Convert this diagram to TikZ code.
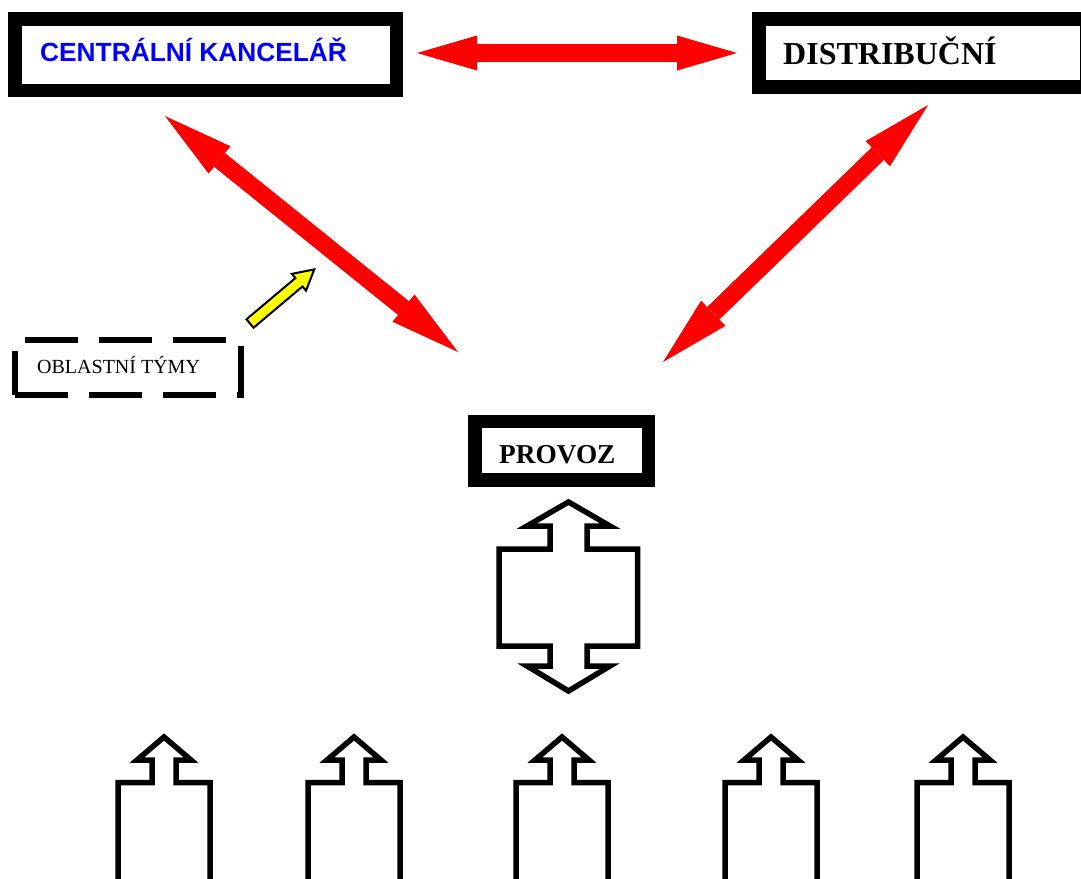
\documentclass[tikz,border=0pt]{standalone}
\usepackage{fontspec}
\setmainfont{Liberation Serif}
\newfontfamily\arialfont{Liberation Sans}
\usetikzlibrary{arrows.meta}
\definecolor{cblue}{RGB}{0,0,255}
\definecolor{cred}{RGB}{255,0,0}
\definecolor{cyel}{RGB}{255,255,0}
\begin{document}
\begin{tikzpicture}[x=1pt,y=-1pt,
  box/.style={draw=black, line width=13.5pt, fill=white, inner sep=0pt, rectangle},
  lbl/.style={anchor=base west, inner sep=0pt},
  relarrow/.style={draw=cred, line width=17.5pt,
     {Triangle[length=#1,width=35pt,line width=0pt]}-{Triangle[length=#1,width=35pt,line width=0pt]}},
  blockarrow/.style={draw=black, fill=white, line width=5.5pt, line join=miter},
  yelarrow/.style={draw=black, fill=cyel, line width=2pt, line join=miter},
  dashbox/.style={draw=black, line width=5.5pt, dash pattern=on 53pt off 21pt, inner sep=0pt, rectangle}]
\useasboundingbox (0,0) rectangle (1081,878);
\clip (0,0) rectangle (1081,878);
\fill[white] (0,0) rectangle (1081,878);

% boxes
\node[box, minimum width=381.5pt, minimum height=71.5pt] (central) at (205.5,54.5) {};
\node[box, minimum width=328pt, minimum height=68pt] (distrib) at (922.75,53) {};
\node[box, minimum width=173.5pt, minimum height=58.5pt] (provoz) at (561.75,450.75) {};
\node[dashbox, minimum width=226pt, minimum height=55pt] (oblast) at (128,367.5) {};

% labels
\node[lbl, font=\arialfont\bfseries\fontsize{26.3}{30}\selectfont, text=cblue] (tcentral) at (40,61) {CENTRÁLNÍ KANCELÁŘ};
\node[lbl, font=\bfseries\fontsize{32}{36}\selectfont] (tdistrib) at (783,64) {DISTRIBUČNÍ};
\node[lbl, font=\bfseries\fontsize{27.3}{32}\selectfont] (tprovoz) at (499,463) {PROVOZ};
\node[lbl, font=\fontsize{20}{24}\selectfont] (toblast) at (37,373) {OBLASTNÍ TÝMY};

% red double arrows
\coordinate (hA) at (417,53);
\coordinate (hB) at (737,53);
\coordinate (lA) at (165,116);
\coordinate (lB) at (458,352);
\coordinate (rA) at (928,105);
\coordinate (rB) at (663,362);
\draw[relarrow=60pt] (hA) -- (hB);
\draw[relarrow=70pt] (lA) -- (lB);
\draw[relarrow=70pt] (rA) -- (rB);

% yellow arrow
\begin{scope}[shift={(250,323.5)}, rotate=40.1]
  \draw[yelarrow] (0,-5.5) -- (64,-5.5) -- (64,-11) -- (84,0) -- (64,11) -- (64,5.5) -- (0,5.5) -- cycle;
\end{scope}

% double block arrow below PROVOZ
\draw[blockarrow] (568.5,502) -- (610,526) -- (587,526) -- (587,549) -- (637.5,549) -- (637.5,646)
  -- (587,646) -- (587,666) -- (610,666) -- (568.5,691) -- (527,666) -- (550,666) -- (550,646)
  -- (499,646) -- (499,549) -- (550,549) -- (550,526) -- (527,526) -- cycle;

% single up arrows
\foreach \t in {164,354,562,771,963}{
  \draw[blockarrow] (\t,737) -- ({\t+27},760) -- ({\t+12},760) -- ({\t+12},782.5) -- ({\t+46},782.5)
    -- ({\t+46},900) -- ({\t-46},900) -- ({\t-46},782.5) -- ({\t-12},782.5) -- ({\t-12},760)
    -- ({\t-27},760) -- cycle;
}
\end{tikzpicture}
\end{document}
